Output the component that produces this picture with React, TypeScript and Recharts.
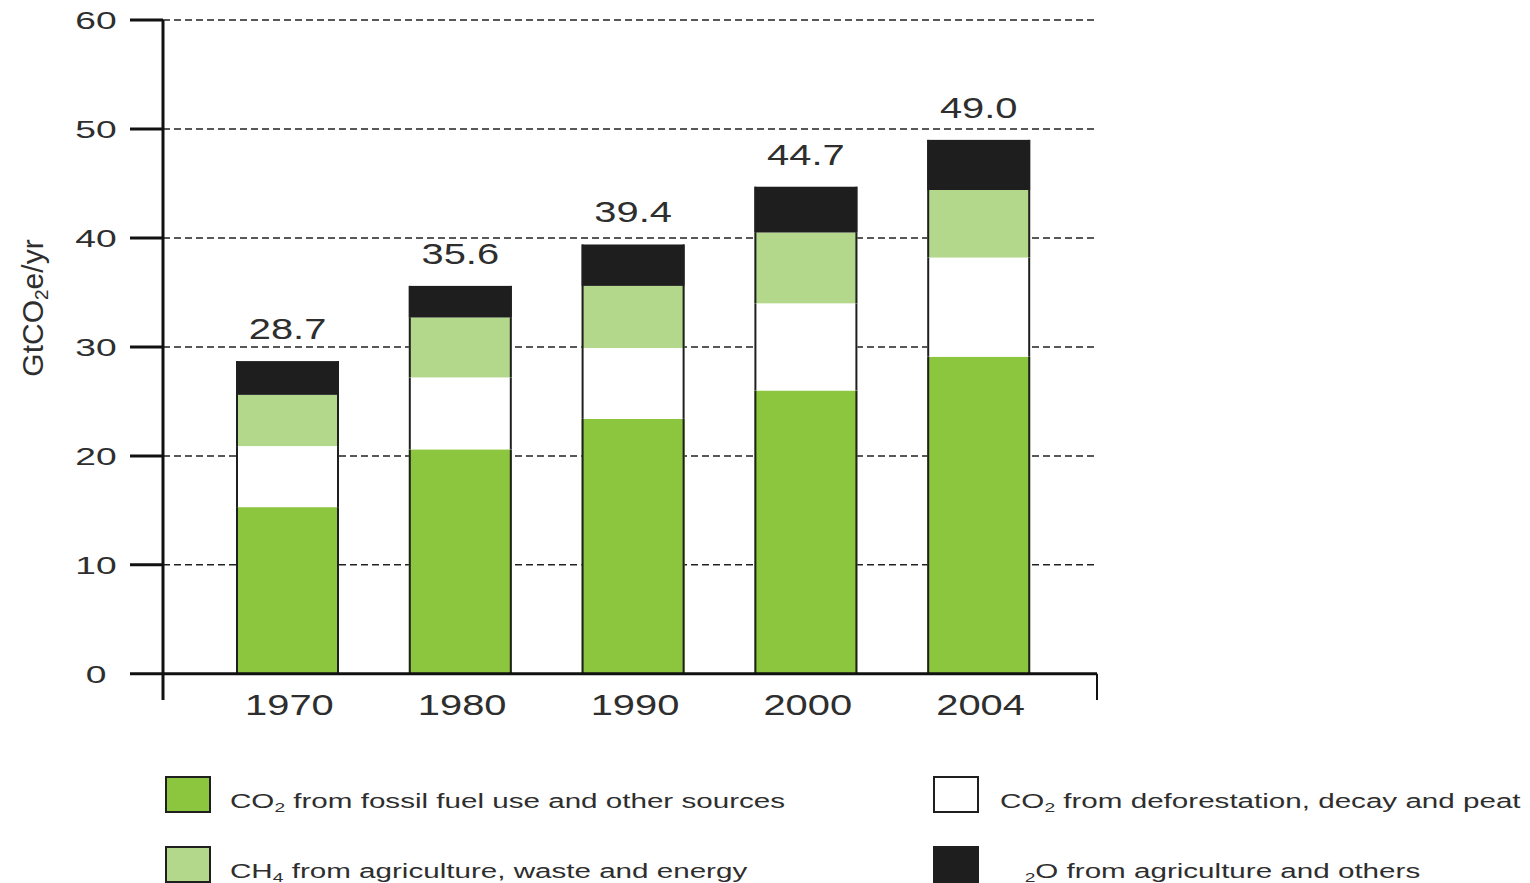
import React from "react";
import {
  BarChart, Bar, XAxis, YAxis, CartesianGrid, ReferenceLine, LabelList,
} from "recharts";

// Global GHG emissions by gas, GtCO2e/yr
const years = ["1970", "1980", "1990", "2000", "2004"];
const fossilCO2 = [15.3, 20.6, 23.4, 26.0, 29.1];
const deforestCO2 = [5.6, 6.6, 6.5, 8.0, 9.1];
const methane = [4.7, 5.5, 5.7, 6.5, 6.2];
const nitrousOxide = [3.1, 2.9, 3.8, 4.2, 4.6];
const totals = [28.7, 35.6, 39.4, 44.7, 49.0];
const yTicks = [0, 10, 20, 30, 40, 50, 60];

// legend text pieces: odd entries are subscripts
const legendFossil = ["CO", "2", " from fossil fuel use and other sources"];
const legendDeforest = ["CO", "2", " from deforestation, decay and peat"];
const legendMethane = ["CH", "4", " from agriculture, waste and energy"];
const legendNitrous = ["\u00a0\u00a0\u00a0", "2", "O from agriculture and others"];

const FONT = "'Liberation Sans', Arial, Helvetica, sans-serif";
const INK = "#2e2e2e";
const OUTLINE = "#1f1f1f";

const COLORS = {
  fossil: "#8cc63f",
  deforest: "#ffffff",
  methane: "#b4d88b",
  nitrous: "#1e1e1e",
};

const data = years.map((year, i) => ({
  year,
  fossil: fossilCO2[i],
  deforest: deforestCO2[i],
  methane: methane[i],
  nitrous: nitrousOxide[i],
  total: totals[i],
}));

// stacked segment with only the side edges outlined
function Segment(props: any) {
  const { x, y, width, height, fill } = props;
  if (!width || height == null) return null;
  return (
    <g>
      <rect x={x} y={y} width={width} height={height} fill={fill} />
      <line x1={x + 1} y1={y} x2={x + 1} y2={y + height} stroke={OUTLINE} strokeWidth={2} />
      <line x1={x + width - 1} y1={y} x2={x + width - 1} y2={y + height} stroke={OUTLINE} strokeWidth={2} />
    </g>
  );
}

function YTick(props: any) {
  const { x, y, payload } = props;
  return (
    <g transform={`translate(${x},${y})`}>
      <text transform="scale(1.55,1)" textAnchor="middle" dy={9} fontSize={24} fontFamily={FONT} fill={INK}>
        {payload.value}
      </text>
    </g>
  );
}

function XTick(props: any) {
  const { x, y, payload } = props;
  return (
    <g transform={`translate(${x + 2},${y})`}>
      <text transform="scale(1.33,1)" textAnchor="middle" dy={15} fontSize={30} fontFamily={FONT} fill={INK}>
        {payload.value}
      </text>
    </g>
  );
}

function TotalLabel(props: any) {
  const { x, y, width, value } = props;
  return (
    <g transform={`translate(${x + width / 2},${y - 22})`}>
      <text transform="scale(1.33,1)" textAnchor="middle" fontSize={30} fontFamily={FONT} fill={INK}>
        {Number(value).toFixed(1)}
      </text>
    </g>
  );
}

function LegendText({ x, y, parts }: { x: number; y: number; parts: string[] }) {
  return (
    <text transform={`translate(${x},${y}) scale(1.48,1)`} fontSize={20} fontFamily={FONT} fill={INK}>
      {parts.map((p, i) =>
        i % 2 === 1 ? (
          <tspan key={i} fontSize={13} dy={4}>{p}</tspan>
        ) : (
          <tspan key={i} dy={i > 0 ? -4 : 0}>{p}</tspan>
        )
      )}
    </text>
  );
}

function LegendItem({ x, y, fill, parts, textX }: { x: number; y: number; fill: string; parts: string[]; textX: number }) {
  return (
    <g>
      <rect x={x + 1} y={y + 1} width={44} height={35} fill={fill} stroke={OUTLINE} strokeWidth={2} />
      <LegendText x={textX} y={y + 32} parts={parts} />
    </g>
  );
}

export default function App() {
  return (
    <div style={{ position: "absolute", left: 0, top: 0, width: 1530, height: 883, background: "#fff" }}>
      <BarChart
        width={1530}
        height={883}
        data={data}
        margin={{ top: 20, right: 433, left: 63, bottom: 123 }}
        barCategoryGap={0}
      >
        <CartesianGrid
          vertical={false}
          stroke="#222"
          strokeWidth={1.5}
          strokeDasharray="7 4"
          syncWithTicks
        />
        <XAxis
          dataKey="year"
          axisLine={false}
          tickLine={false}
          tickSize={0}
          tickMargin={0}
          height={60}
          padding={{ left: 38, right: 32 }}
          tick={<XTick />}
          interval={0}
        />
        {/* plain 0..1 axis across the plot, used for the closing tick at the right end */}
        <XAxis xAxisId="frame" dataKey="frameX" type="number" domain={[0, 1]} allowDataOverflow hide />
        <YAxis
          type="number"
          domain={[-2.4, 60]}
          ticks={yTicks}
          interval={0}
          width={100}
          axisLine={{ stroke: "#111", strokeWidth: 3 }}
          tickLine={{ stroke: "#111", strokeWidth: 3 }}
          tickSize={33}
          tickMargin={34}
          tick={<YTick />}
        />
        <Bar dataKey="fossil" stackId="ghg" fill={COLORS.fossil} barSize={103} shape={<Segment />} isAnimationActive={false} />
        <Bar dataKey="deforest" stackId="ghg" fill={COLORS.deforest} barSize={103} shape={<Segment />} isAnimationActive={false} />
        <Bar dataKey="methane" stackId="ghg" fill={COLORS.methane} barSize={103} shape={<Segment />} isAnimationActive={false} />
        <Bar dataKey="nitrous" stackId="ghg" fill={COLORS.nitrous} barSize={103} shape={<Segment />} isAnimationActive={false}>
          <LabelList dataKey="total" content={<TotalLabel />} />
        </Bar>
        <ReferenceLine y={0} stroke="#111" strokeWidth={3} />
        <ReferenceLine
          xAxisId="frame"
          segment={[{ x: 1, y: 0 }, { x: 1, y: -2.4 }]}
          stroke="#111"
          strokeWidth={2}
          ifOverflow="visible"
        />
      </BarChart>
      <svg
        width={1530}
        height={883}
        style={{ position: "absolute", left: 0, top: 0, pointerEvents: "none" }}
      >
        <text transform="translate(43,308) rotate(-90)" textAnchor="middle" fontSize={30} fontFamily={FONT} fill={INK}>
          <tspan>GtCO</tspan>
          <tspan fontSize={19} dy={5}>2</tspan>
          <tspan dy={-5}>e/yr</tspan>
        </text>
        <LegendItem x={165} y={776} fill={COLORS.fossil} parts={legendFossil} textX={230} />
        <LegendItem x={165} y={846} fill={COLORS.methane} parts={legendMethane} textX={230} />
        <LegendItem x={933} y={776} fill={COLORS.deforest} parts={legendDeforest} textX={1000} />
        <LegendItem x={933} y={846} fill={COLORS.nitrous} parts={legendNitrous} textX={1000} />
      </svg>
    </div>
  );
}
